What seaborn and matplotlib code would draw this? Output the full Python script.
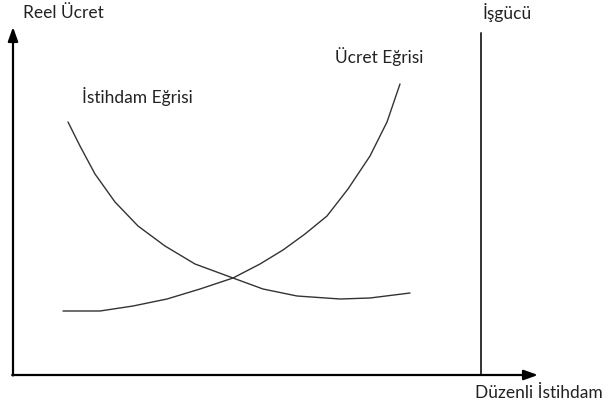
import matplotlib
matplotlib.use("Agg")
import matplotlib.pyplot as plt
import seaborn as sns
import pandas as pd

sns.set_theme(style="white")
plt.rcParams['font.family'] = ['Lato', 'DejaVu Sans']

istihdam_x = [55, 67, 82, 102, 125, 152, 182, 220, 250, 284, 327, 357, 397]
istihdam_y = [253, 229, 201, 173, 149, 129, 111, 97, 86, 79, 76, 77, 82]
ucret_x = [50, 87, 120, 154, 187, 220, 247, 270, 292, 314, 335, 357, 374, 387]
ucret_y = [64, 64, 69, 76, 86, 97, 111, 125, 141, 159, 186, 219, 253, 291]
labor_force_x = 468

labels = {"y": "Reel Ücret", "x": "Düzenli İstihdam", "labor": "İşgücü",
          "wage": "Ücret Eğrisi", "emp": "İstihdam Eğrisi"}

df = pd.concat([
    pd.DataFrame({"x": istihdam_x, "y": istihdam_y, "curve": labels["emp"]}),
    pd.DataFrame({"x": ucret_x, "y": ucret_y, "curve": labels["wage"]}),
])

fig = plt.figure(figsize=(6.14, 4.10), dpi=100)
ax = fig.add_axes([0, 0, 1, 1])
ax.set_xlim(-13, 601)
ax.set_ylim(-34, 376)
ax.axis("off")

for name, g in df.groupby("curve"):
    sns.lineplot(data=g, x="x", y="y", ax=ax, color="#333333", lw=1.0,
                 sort=False, estimator=None, solid_joinstyle="round")
if ax.get_legend():
    ax.get_legend().remove()

# axes arrows
ax.annotate("", xy=(0, 348), xytext=(0, -0.5),
            arrowprops=dict(arrowstyle="-|>,head_length=0.7,head_width=0.25",
                            color="black", lw=1.6, shrinkA=0, shrinkB=0))
ax.annotate("", xy=(525, 0), xytext=(-0.8, 0),
            arrowprops=dict(arrowstyle="-|>,head_length=0.7,head_width=0.25",
                            color="black", lw=1.6, shrinkA=0, shrinkB=0))
ax.plot([labor_force_x, labor_force_x], [0, 342], color="#333333", lw=1.4)

fs = 12.5
col = "#222222"
ax.text(10, 363, labels["y"], fontsize=fs, ha="left", va="center", color=col)
ax.text(470, 363, labels["labor"], fontsize=fs, ha="left", va="center", color=col)
ax.text(322, 319, labels["wage"], fontsize=fs, ha="left", va="center", color=col)
ax.text(69, 279, labels["emp"], fontsize=fs, ha="left", va="center", color=col)
ax.text(462, -17, labels["x"], fontsize=fs, ha="left", va="center", color=col)

fig.savefig("out.png", dpi=100)
